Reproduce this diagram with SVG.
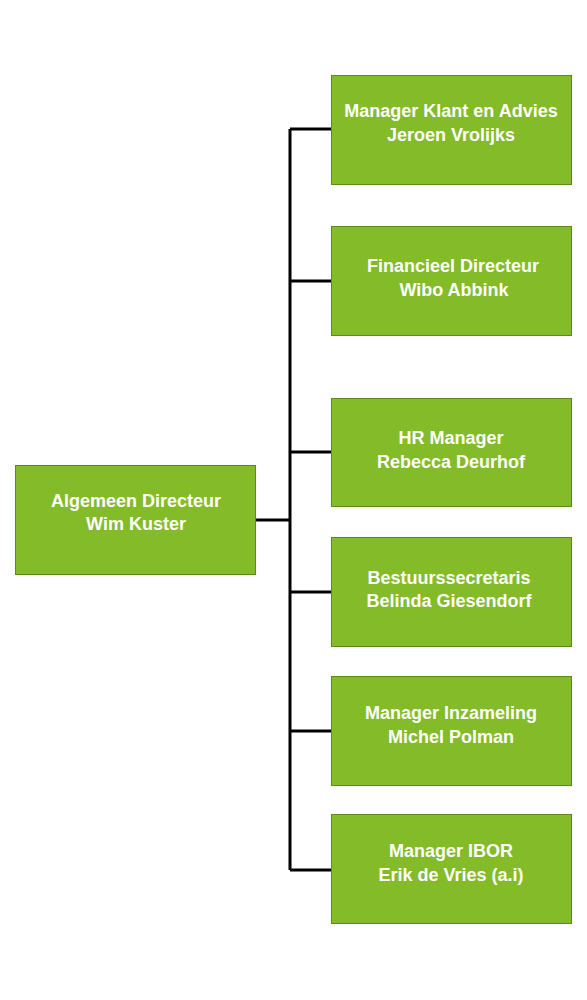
<svg xmlns="http://www.w3.org/2000/svg" width="587" height="1000" viewBox="0 0 587 1000">
<style>
.box{fill:#84BB29;stroke:#5E8A1C;stroke-width:1}
.t{font-family:"Liberation Sans",Arial,sans-serif;font-weight:bold;font-size:18px;fill:#FFFFFF;text-anchor:middle}
.c{fill:none;stroke:#000000;stroke-width:3}
</style>
<rect width="587" height="1000" fill="#FFFFFF"/>
<g id="connectors">
<path class="c" d="M290,129 V870"/>
<path class="c" d="M256,520 H290"/>
<path class="c" d="M290,129 H331"/>
<path class="c" d="M290,281 H331"/>
<path class="c" d="M290,452 H331"/>
<path class="c" d="M290,592 H331"/>
<path class="c" d="M290,731 H331"/>
<path class="c" d="M290,870 H331"/>
</g>
<g id="node-algemeen">
<rect class="box" x="15.5" y="465.5" width="240" height="109"/>
<text class="t" x="136" y="507">Algemeen Directeur</text>
<text class="t" x="136" y="530">Wim Kuster</text>
</g>
<g id="node-klant">
<rect class="box" x="331.5" y="75.5" width="240" height="109"/>
<text class="t" x="451" y="117">Manager Klant en Advies</text>
<text class="t" x="451" y="141">Jeroen Vrolijks</text>
</g>
<g id="node-financieel">
<rect class="box" x="331.5" y="226.5" width="240" height="109"/>
<text class="t" x="453" y="272">Financieel Directeur</text>
<text class="t" x="454" y="296">Wibo Abbink</text>
</g>
<g id="node-hr">
<rect class="box" x="331.5" y="398.5" width="240" height="108"/>
<text class="t" x="451" y="444">HR Manager</text>
<text class="t" x="451" y="468">Rebecca Deurhof</text>
</g>
<g id="node-bestuur">
<rect class="box" x="331.5" y="537.5" width="240" height="109"/>
<text class="t" x="449" y="584">Bestuurssecretaris</text>
<text class="t" x="449" y="607">Belinda Giesendorf</text>
</g>
<g id="node-inzameling">
<rect class="box" x="331.5" y="676.5" width="240" height="109"/>
<text class="t" x="451" y="719">Manager Inzameling</text>
<text class="t" x="451" y="743">Michel Polman</text>
</g>
<g id="node-ibor">
<rect class="box" x="331.5" y="814.5" width="240" height="109"/>
<text class="t" x="451" y="857">Manager IBOR</text>
<text class="t" x="451" y="881">Erik de Vries (a.i)</text>
</g>
</svg>
